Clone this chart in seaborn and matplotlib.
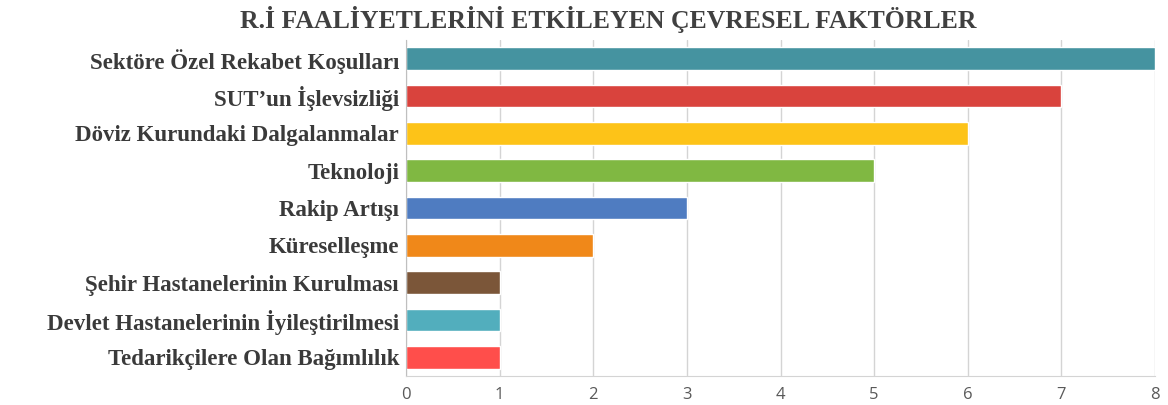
import pandas as pd
from matplotlib import pyplot as plt
import seaborn as sns

categories = ["Sektöre Özel Rekabet Koşulları", "SUT’un İşlevsizliği",
              "Döviz Kurundaki Dalgalanmalar", "Teknoloji", "Rakip Artışı",
              "Küreselleşme", "Şehir Hastanelerinin Kurulması",
              "Devlet Hastanelerinin İyileştirilmesi", "Tedarikçilere Olan Bağımlılık"]
values = [8, 7, 6, 5, 3, 2, 1, 1, 1]
colors = ["#4593A0", "#D9433D", "#FDC318", "#80B842", "#4F7CC1",
          "#F08819", "#7B5639", "#52AEBD", "#FF4E4B"]
xticks = [0, 1, 2, 3, 4, 5, 6, 7, 8]

df = pd.DataFrame({"factor": categories, "count": values})

sns.set_style("white")
fig = plt.figure(figsize=(11.68, 4.05), dpi=100)
ax = fig.add_axes([406/1168, 1-376/405, (1155-406)/1168, 336/405])

sns.barplot(data=df, x="count", y="factor", hue="factor", palette=colors,
            orient="h", width=0.6, legend=False, ax=ax, saturation=1)

ax.set_xlim(0, 8)
ax.set_ylim(8.5, -0.5)
ax.set_xticks(xticks)
ax.set_xticklabels([str(t) for t in xticks], fontsize=12, color="#595959", family="Open Sans")
ax.tick_params(axis="x", length=5, color="#D4D4D4", pad=3, direction="out")
ax.tick_params(axis="y", length=0, pad=5)
for lbl in ax.get_yticklabels():
    lbl.set_fontfamily("Liberation Serif")
    lbl.set_fontweight("bold")
    lbl.set_fontsize(16.5)
    lbl.set_color("#3A3A3A")
ax.set_xlabel("")
ax.set_ylabel("")
ax.grid(axis="x", color="#D4D4D4", linewidth=1)
ax.set_axisbelow(True)
for s in ["top", "right"]:
    ax.spines[s].set_visible(False)
ax.spines["left"].set_color("#BFBFBF")
ax.spines["bottom"].set_color("#D4D4D4")

fig.text(0.521, 0.953, "R.İ FAALİYETLERİNİ ETKİLEYEN ÇEVRESEL FAKTÖRLER",
         ha="center", va="center", fontsize=18.5, fontweight="bold",
         family="Liberation Serif", color="#404040")

plt.savefig("out.png", dpi=100)
